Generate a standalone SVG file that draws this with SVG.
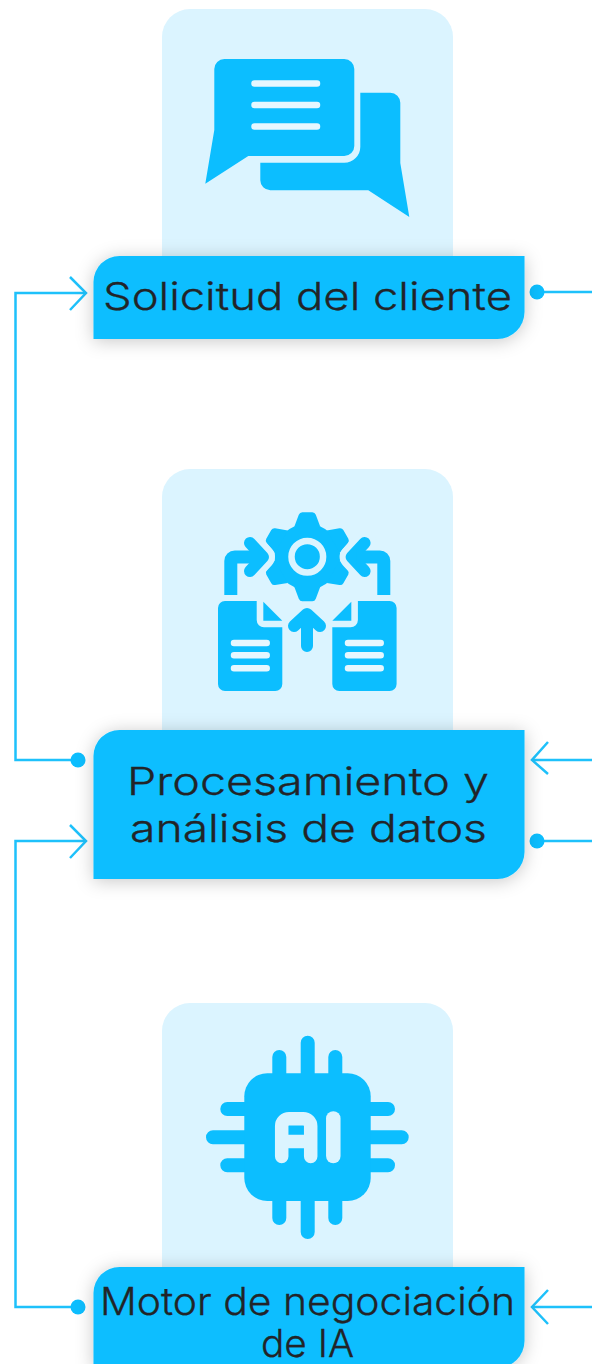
<svg xmlns="http://www.w3.org/2000/svg" xmlns:xlink="http://www.w3.org/1999/xlink" width="592" height="1364" viewBox="0 0 592 1364">
<style>
.card{fill:#dbf4ff}
.label{fill:#0cbeff;filter:url(#sh)}
.b{fill:#0cbeff}
.ls{stroke:#e6f7ff;stroke-width:6.5;stroke-linecap:round;fill:none}
.sb{stroke:#0cbeff;fill:none;stroke-linecap:round;stroke-linejoin:round}
.t{font-family:"Inter","Liberation Sans",sans-serif;font-weight:300;font-size:38px;fill:#222428;stroke:#222428;stroke-width:.3}
.c{fill:none;stroke:#1ec1fb;stroke-width:2.5}
.d{fill:#0cbeff}
</style>
<defs>
<filter id="sh" x="-15%" y="-40%" width="130%" height="180%"><feDropShadow dx="0" dy="2" stdDeviation="9" flood-color="#000" flood-opacity=".22"/></filter>
<path id="tooth" d="M-13 -30 L-8.500 -42 Q-7.500 -44.500 -5 -44.500 H5 Q7.500 -44.500 8.500 -42 L13 -30 Z"/>
</defs>
<rect width="592" height="1364" fill="#fff"/>
<g id="connectors">
<path class="c" d="M78 760H15.500V293H85"/>
<path class="c" d="M70 277L86 293L70 310"/>
<path class="c" d="M537 292H592"/>
<path class="c" d="M592 760H533"/>
<path class="c" d="M548 742L532 760L548 774"/>
<path class="c" d="M537 841H592"/>
<path class="c" d="M85 841H15.500V1307H78"/>
<path class="c" d="M70 825L86 841L70 858"/>
<path class="c" d="M592 1307H533"/>
<path class="c" d="M548 1290L532 1307L548 1324"/>
<circle class="d" cx="78" cy="760" r="7.500"/>
<circle class="d" cx="537" cy="292" r="7.500"/>
<circle class="d" cx="537" cy="841" r="7.500"/>
<circle class="d" cx="78" cy="1307" r="7.500"/>
</g>
<g id="node-solicitud">
<rect class="card" x="162" y="9" width="291" height="290" rx="28"/>
<path class="b" d="M224.300 59H344.300A10 10 0 0 1 354.300 69V146A10 10 0 0 1 344.300 156H248.300L205.300 183.700L214.300 130V69A10 10 0 0 1 224.300 59Z"/>
<path class="b" d="M360.300 92.700H390.300A10 10 0 0 1 400.300 102.700V163L409.300 217L368.300 190.300H270.300A10 10 0 0 1 260.300 180.300V162.700H344.300A16 16 0 0 0 360.300 146.700Z"/>
<path class="ls" d="M254.500 83.500H317M254.500 105H317M254.500 126.500H317"/>
<path class="label" d="M119.500 256H524.500V312A27 27 0 0 1 497.500 339H93.500V282A26 26 0 0 1 119.500 256Z"/>
<text class="t" x="103" y="310" textLength="409" lengthAdjust="spacingAndGlyphs">Solicitud del cliente</text>
</g>
<g id="node-procesamiento">
<rect class="card" x="162" y="469" width="291" height="300" rx="28"/>
<g class="b" transform="translate(307.300 556.700)">
<circle r="33"/>
<use xlink:href="#tooth"/>
<use xlink:href="#tooth" transform="rotate(60)"/>
<use xlink:href="#tooth" transform="rotate(120)"/>
<use xlink:href="#tooth" transform="rotate(180)"/>
<use xlink:href="#tooth" transform="rotate(240)"/>
<use xlink:href="#tooth" transform="rotate(300)"/>
<circle r="15.800" fill="none" stroke="#dbf4ff" stroke-width="6.500"/>
</g>
<path d="M250 543L263 557L250 571M364.600 543L351.600 557L364.600 571" fill="none" stroke="#dbf4ff" stroke-width="24" stroke-linecap="round" stroke-linejoin="round"/>
<path class="sb" stroke-width="12" d="M250 543L263 557L250 571M364.600 543L351.600 557L364.600 571"/>
<path d="M230.800 595V561A4 4 0 0 1 234.800 557H258" fill="none" stroke="#0cbeff" stroke-width="13"/>
<path d="M383.800 595V561A4 4 0 0 0 379.800 557H356.600" fill="none" stroke="#0cbeff" stroke-width="13"/>
<path class="b" d="M225 601H256.700V620A7.300 7.300 0 0 0 264 627.300H282.300V684A7 7 0 0 1 275.300 691H225A7 7 0 0 1 218 684V608A7 7 0 0 1 225 601Z"/>
<path class="b" d="M263.300 601.700L282.300 620.700H263.300Z"/>
<path class="b" d="M389.600 601H357.900V620A7.300 7.300 0 0 1 350.600 627.300H332.300V684A7 7 0 0 0 339.300 691H389.600A7 7 0 0 0 396.600 684V608A7 7 0 0 0 389.600 601Z"/>
<path class="b" d="M351.300 601.700L332.300 620.700H351.300Z"/>
<path class="ls" d="M234 643H266.700M234 655.300H266.700M234 668.300H266.700M348 643H380.700M348 655.300H380.700M348 668.300H380.700"/>
<path class="sb" stroke-width="12" d="M294 626L307 614L320 626M307 615V646"/>
<path class="label" d="M119.500 730H524.500V852A27 27 0 0 1 497.500 879H93.500V756A26 26 0 0 1 119.500 730Z"/>
<text class="t" x="127" y="795" textLength="362" lengthAdjust="spacingAndGlyphs">Procesamiento y</text>
<text class="t" x="130" y="842" textLength="357" lengthAdjust="spacingAndGlyphs">análisis de datos</text>
</g>
<g id="node-motor">
<rect class="card" x="162" y="1003" width="291" height="300" rx="28"/>
<path class="sb" stroke-width="14" d="M279.300 1057V1080M307.700 1042.700V1080M335.300 1057V1080M279.300 1218V1195M307.700 1232V1195M335.300 1218V1195M227.300 1109H250M213 1137.300H250M227.300 1165.300H250M388 1109H365M401.700 1137.300H365M388 1165.300H365"/>
<rect class="b" x="244.300" y="1073.300" width="126.400" height="127.700" rx="23"/>
<path d="M281.700 1156.500V1126A7.300 7.300 0 0 1 289 1118.700H303.300A7.400 7.400 0 0 1 310.700 1126V1156.500M281.700 1141.600H310.700" fill="none" stroke="#dbf4ff" stroke-width="13.500" stroke-linecap="round"/>
<path d="M333.300 1118.500V1156" fill="none" stroke="#dbf4ff" stroke-width="14.500" stroke-linecap="round"/>
<path class="label" d="M119.500 1267H524.500V1341A27 27 0 0 1 497.500 1368H93.500V1293A26 26 0 0 1 119.500 1267Z"/>
<text class="t" x="100" y="1315" textLength="415" lengthAdjust="spacingAndGlyphs">Motor de negociación</text>
<text class="t" x="261" y="1357" textLength="93" lengthAdjust="spacingAndGlyphs">de IA</text>
</g>
</svg>
